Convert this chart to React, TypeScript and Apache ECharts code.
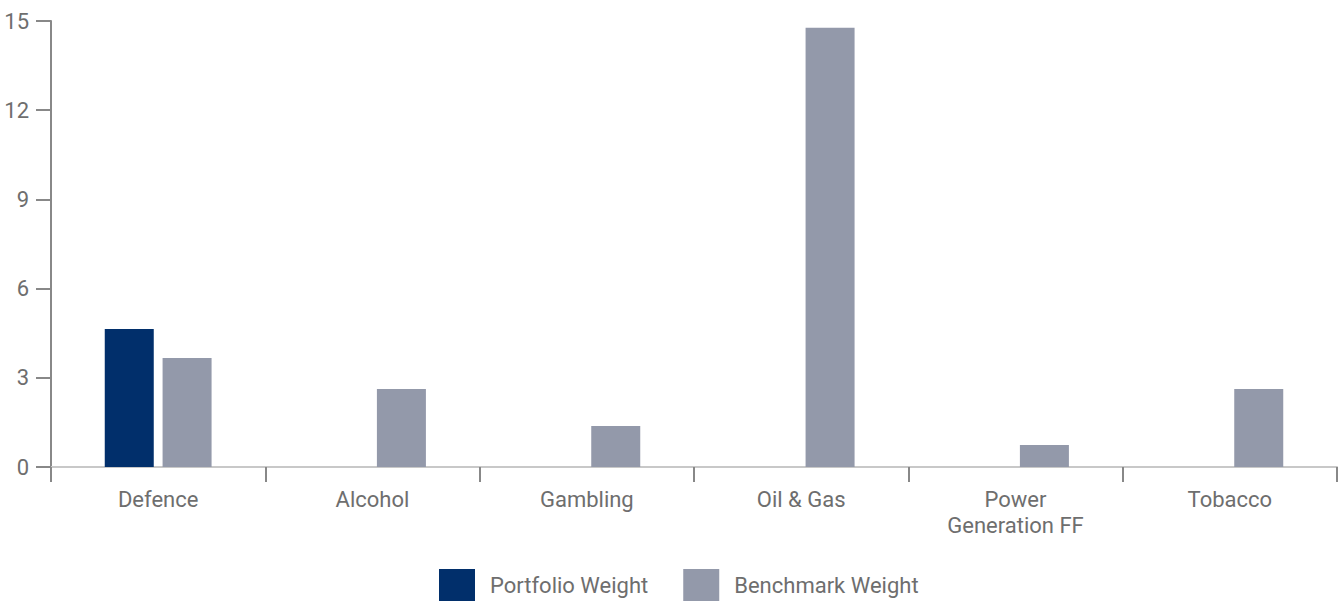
import React, { useEffect, useRef } from "react";
import * as echarts from "echarts";

const categories = ["Defence", "Alcohol", "Gambling", "Oil & Gas", "Power\nGeneration FF", "Tobacco"];
const portfolioWeight = [4.64, 0, 0, 0, 0, 0];
const benchmarkWeight = [3.67, 2.62, 1.38, 14.77, 0.74, 2.62];
const seriesNames = ["Portfolio Weight", "Benchmark Weight"];

const textColor = "#6e6e6e";
const font = "Roboto, 'Open Sans', sans-serif";

export default function App() {
  const ref = useRef<HTMLDivElement>(null);
  useEffect(() => {
    const chart = echarts.init(ref.current!, null, { renderer: "svg" });
    chart.setOption({
      animation: false,
      textStyle: { fontFamily: font },
      grid: { left: 51, right: 6, top: 21, bottom: 134, containLabel: false },
      legend: {
        data: seriesNames,
        top: 569,
        left: 439,
        padding: 0,
        itemWidth: 36,
        itemHeight: 32,
        itemGap: 35,
        icon: "rect",
        textStyle: { color: textColor, fontSize: 22, lineHeight: 24, fontFamily: font, padding: [4, 0, 0, 10] },
      },
      xAxis: {
        type: "category",
        data: categories,
        axisLine: { lineStyle: { color: "#c8c8c8", width: 2 } },
        axisTick: { show: true, length: 15, lineStyle: { color: "#888", width: 2 } },
        axisLabel: { color: textColor, fontSize: 22, margin: 19, lineHeight: 26, fontFamily: font },
      },
      yAxis: {
        type: "value",
        min: 0,
        max: 15,
        interval: 3,
        splitLine: { show: false },
        axisLine: { show: true, lineStyle: { color: "#888", width: 2 } },
        axisTick: { show: true, length: 15, lineStyle: { color: "#888", width: 2 } },
        axisLabel: { color: textColor, fontSize: 22, margin: 22, fontFamily: font },
      },
      series: [
        {
          name: seriesNames[0],
          type: "bar",
          data: portfolioWeight,
          barWidth: 49,
          barGap: "18%",
          itemStyle: { color: "#012f6b" },
        },
        {
          name: seriesNames[1],
          type: "bar",
          data: benchmarkWeight,
          barWidth: 49,
          barGap: "18%",
          itemStyle: { color: "#9399aa" },
        },
      ],
    });
    return () => chart.dispose();
  }, []);
  return <div ref={ref} style={{ width: 1343, height: 601, position: "absolute", left: 0, top: 0 }} />;
}
